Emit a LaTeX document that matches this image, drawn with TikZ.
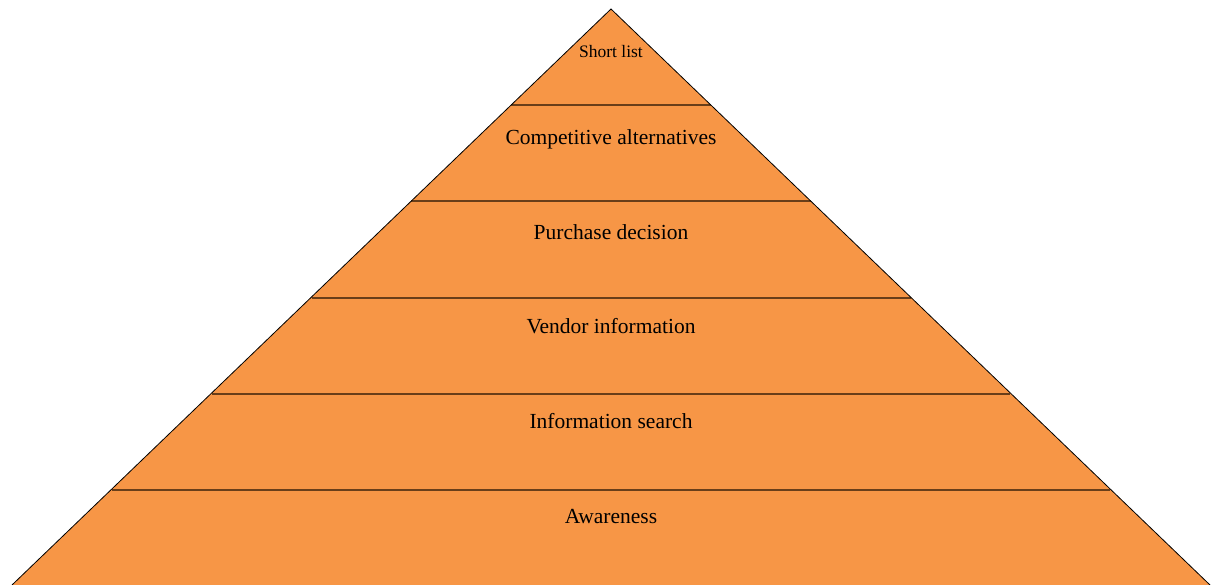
\documentclass[tikz,border=0pt]{standalone}
\usepackage{fontspec}
\setmainfont{Liberation Serif}
\definecolor{pyrfill}{RGB}{247,150,70}
\definecolor{sepline}{RGB}{105,62,25}
\begin{document}
\begin{tikzpicture}[x=1pt,y=-1pt,
  band/.style={font=\fontsize{21.5}{24}\selectfont, text=black, inner sep=0pt},
  toplabel/.style={font=\fontsize{17.5}{20}\selectfont, text=black, inner sep=0pt},
  sep/.style={draw=sepline, line width=2pt},
  outline/.style={draw=black, line width=0.8pt}]
\useasboundingbox (0,0) rectangle (1220,585);
% pyramid
\coordinate (apex) at (611,9);
\coordinate (bl) at (12,585);
\coordinate (br) at (1210,585);
\fill[pyrfill] (apex) -- (br) -- (bl) -- cycle;
% separators
\foreach \k in {1,...,5}{
  \pgfmathsetmacro{\yy}{9.5+96*\k}
  \pgfmathsetmacro{\hw}{\k*96/576*599}
  \coordinate (l\k) at ({611-\hw},\yy);
  \coordinate (r\k) at ({611+\hw},\yy);
  \draw[sep] (l\k) -- (r\k);
}
\draw[outline] (bl) -- (apex) -- (br);
% labels
\node[toplabel] (t0) at (611,52) {Short list};
\node[band] (t1) at (611,139) {Competitive alternatives};
\node[band] (t2) at (611,232) {Purchase decision};
\node[band] (t3) at (611,326) {Vendor information};
\node[band] (t4) at (611,421) {Information search};
\node[band] (t5) at (611,517) {Awareness};
\end{tikzpicture}
\end{document}
